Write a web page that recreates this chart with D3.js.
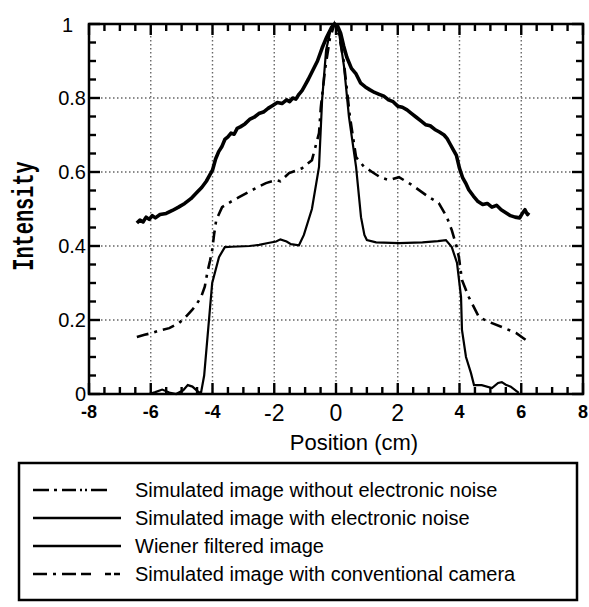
<!DOCTYPE html>
<html><head><meta charset="utf-8">
<script src="https://cdn.jsdelivr.net/npm/d3@7"></script>
<style>body{margin:0;background:#fff}</style>
</head><body><svg id="c" width="589" height="607"></svg>
<script>
// ---- data ----
const xTicks = [-8,-6,-4,-2,0,2,4,6,8];
const yTicks = [0,0.2,0.4,0.6,0.8,1];
const yTickLabels = ["0","0.2","0.4","0.6","0.8","1"];
const legendLabels = [
  "Simulated image without electronic noise",
  "Simulated image with electronic noise",
  "Wiener filtered image",
  "Simulated image with conventional camera"
];
const noisyX = [-6.45,-6.35,-6.25,-6.15,-6.05,-5.95,-5.85,-5.7,-5.5,-5.3,-5.1,-4.9,-4.7,-4.5,-4.35,-4.2,-4.1,-4.0,-3.9,-3.8,-3.7,-3.6,-3.5,-3.4,-3.3,-3.2,-3.1,-2.95,-2.8,-2.65,-2.5,-2.35,-2.2,-2.05,-1.9,-1.75,-1.6,-1.5,-1.4,-1.3,-1.2,-1.1,-1.0,-0.9,-0.75,-0.6,-0.45,-0.3,-0.15,-0.05,0.05,0.15,0.25,0.35,0.5,0.65,0.8,0.95,1.1,1.25,1.4,1.55,1.7,1.85,2.0,2.15,2.3,2.45,2.6,2.75,2.9,3.05,3.2,3.35,3.5,3.6,3.7,3.8,3.9,4.0,4.1,4.2,4.3,4.45,4.6,4.75,4.9,5.05,5.2,5.35,5.5,5.65,5.8,5.95,6.05,6.12,6.2,6.25];
const noisyY = [0.462,0.470,0.465,0.478,0.472,0.482,0.476,0.485,0.488,0.496,0.505,0.515,0.528,0.545,0.558,0.575,0.59,0.605,0.635,0.655,0.668,0.688,0.695,0.705,0.702,0.718,0.722,0.73,0.742,0.748,0.758,0.762,0.772,0.78,0.788,0.785,0.795,0.79,0.8,0.797,0.81,0.82,0.835,0.85,0.875,0.9,0.935,0.965,0.99,1.0,0.995,0.975,0.94,0.91,0.88,0.865,0.84,0.83,0.822,0.815,0.81,0.805,0.795,0.79,0.778,0.775,0.768,0.758,0.748,0.738,0.728,0.725,0.715,0.708,0.7,0.69,0.675,0.66,0.645,0.61,0.585,0.57,0.552,0.535,0.52,0.512,0.515,0.505,0.51,0.498,0.49,0.482,0.478,0.476,0.49,0.498,0.485,0.49];
const wienerX = [-6.05,-5.85,-5.63,-5.4,-5.18,-4.95,-4.8,-4.65,-4.45,-4.37,-4.27,-4.01,-3.79,-3.6,-3.37,-2.8,-2.49,-2.2,-1.94,-1.8,-1.6,-1.46,-1.2,-1.04,-0.78,-0.55,-0.45,-0.32,-0.16,-0.03,0.1,0.26,0.42,0.65,0.81,0.92,1.0,1.3,2.04,2.8,3.3,3.56,3.75,3.92,4.05,4.08,4.21,4.37,4.47,4.72,5.05,5.25,5.37,5.5,5.66,5.92];
const wienerY = [0.0,0.005,0.012,0.004,0.0,0.01,0.024,0.02,0.005,0.004,0.05,0.3,0.37,0.397,0.398,0.4,0.403,0.408,0.412,0.418,0.412,0.405,0.402,0.43,0.5,0.614,0.795,0.93,0.99,1.0,0.976,0.885,0.749,0.614,0.478,0.43,0.416,0.41,0.408,0.41,0.413,0.416,0.397,0.354,0.262,0.173,0.1,0.057,0.024,0.024,0.016,0.03,0.032,0.025,0.02,0.003];
const cameraX = [-6.45,-6.2,-5.95,-5.7,-5.4,-5.08,-4.85,-4.66,-4.5,-4.37,-4.25,-4.17,-4.08,-4.01,-3.95,-3.88,-3.69,-3.4,-3.14,-2.72,-2.27,-1.94,-1.8,-1.52,-1.1,-0.78,-0.55,-0.49,-0.35,-0.2,-0.05,0.1,0.25,0.45,0.65,0.9,1.17,1.45,1.72,2.04,2.46,3.01,3.33,3.59,3.75,3.9,3.98,4.08,4.3,4.63,4.95,5.37,5.83,6.15];
const cameraY = [0.154,0.16,0.165,0.172,0.178,0.192,0.21,0.227,0.245,0.262,0.29,0.327,0.36,0.389,0.43,0.47,0.505,0.52,0.532,0.551,0.57,0.578,0.575,0.597,0.61,0.632,0.705,0.776,0.88,0.96,1.0,0.97,0.9,0.75,0.64,0.615,0.6,0.585,0.578,0.586,0.565,0.532,0.516,0.478,0.443,0.40,0.37,0.308,0.262,0.208,0.195,0.181,0.165,0.146];

// ---- layout ----
const svg = d3.select("#c");
const L = 89, R = 583, T = 24, B = 394;
const x = d3.scaleLinear().domain([-8,8]).range([L,R]);
const y = d3.scaleLinear().domain([0,1]).range([B,T]);

// grid
const g = svg.append("g");
g.selectAll(".gx").data(xTicks.slice(1,-1)).join("line")
  .attr("x1",d=>x(d)).attr("x2",d=>x(d)).attr("y1",T).attr("y2",B)
  .attr("stroke","#666").attr("stroke-width",1.4).attr("stroke-dasharray","1.5,2.5");
g.selectAll(".gy").data(yTicks.slice(1,-1)).join("line")
  .attr("x1",L).attr("x2",R).attr("y1",d=>y(d)).attr("y2",d=>y(d))
  .attr("stroke","#666").attr("stroke-width",1.4).attr("stroke-dasharray","1.5,2.5");

// ticks (inward, on all four sides)
const xMinor = d3.range(-8,8.01,0.5);
const yMinor = d3.range(0,1.001,0.05);
const isMajX = d => Math.abs(d/2 - Math.round(d/2))<1e-6;
const isMajY = d => Math.abs(d/0.2 - Math.round(d/0.2))<1e-6;
const tk = svg.append("g").attr("stroke","#000").attr("stroke-width",2.4);
xMinor.forEach(d=>{
  const len = isMajX(d)?11:7;
  tk.append("line").attr("x1",x(d)).attr("x2",x(d)).attr("y1",B).attr("y2",B-len);
  tk.append("line").attr("x1",x(d)).attr("x2",x(d)).attr("y1",T).attr("y2",T+len);
});
yMinor.forEach(d=>{
  const len = isMajY(d)?11:7;
  tk.append("line").attr("y1",y(d)).attr("y2",y(d)).attr("x1",L).attr("x2",L+len);
  tk.append("line").attr("y1",y(d)).attr("y2",y(d)).attr("x1",R).attr("x2",R-len);
});

// frame
svg.append("rect").attr("x",L).attr("y",T).attr("width",R-L).attr("height",B-T)
  .attr("fill","none").attr("stroke","#000").attr("stroke-width",2.5);

// tick labels
svg.append("g").selectAll("text").data(xTicks).join("text")
  .attr("x",d=>x(d)).attr("y",d=>Math.abs(d)<=2?421:418).attr("text-anchor","middle")
  .attr("font-family","Liberation Sans")
  .attr("font-size",d=>Math.abs(d)<=2?23:18)
  .attr("font-weight",d=>Math.abs(d)<=2?"normal":"bold")
  .text(d=>d);
svg.append("g").selectAll("text").data(yTicks).join("text")
  .attr("x",d=>d===1?73:86).attr("y",d=>y(d)+(d===1?8:7)).attr("text-anchor","end")
  .attr("font-family","Liberation Sans").attr("font-size",20).text((d,i)=>yTickLabels[i]);

// axis titles
svg.append("text").attr("x",354).attr("y",450).attr("text-anchor","middle")
  .attr("font-family","Liberation Sans").attr("font-size",22).text("Position (cm)");
svg.append("text").attr("transform","translate(33,216) rotate(-90) scale(0.7,1)").attr("text-anchor","middle")
  .attr("font-family","Liberation Mono").attr("font-weight","bold").attr("font-size",29).text("Intensity");

// curves
const line = d3.line().x(d=>x(d[0])).y(d=>y(d[1])).curve(d3.curveLinear);
const pts = (xs,ys)=>xs.map((v,i)=>[v,ys[i]]);
svg.append("path").datum(pts(cameraX,cameraY)).attr("d",line)
  .attr("fill","none").attr("stroke","#000").attr("stroke-width",2.6)
  .attr("stroke-dasharray","12,6,3,6");
svg.append("path").datum(pts(wienerX,wienerY)).attr("d",line)
  .attr("fill","none").attr("stroke","#000").attr("stroke-width",2.2);
svg.append("path").datum(pts(noisyX,noisyY)).attr("d",line)
  .attr("fill","none").attr("stroke","#000").attr("stroke-width",3.6).attr("stroke-linejoin","round");

// legend
const lg = svg.append("g");
lg.append("rect").attr("x",19).attr("y",463).attr("width",558).attr("height",137)
  .attr("fill","none").attr("stroke","#000").attr("stroke-width",2.5);
const dashes = ["16,5,3,5,14,4,2,3,2,4,16","none","none","14,6,3,6,14,5,10"];
legendLabels.forEach((t,i)=>{
  const yy = 490 + i*28;
  lg.append("line").attr("x1",33).attr("x2",121).attr("y1",yy).attr("y2",yy)
    .attr("stroke","#000").attr("stroke-width",2.6)
    .attr("stroke-dasharray",dashes[i]==="none"?null:dashes[i]);
  lg.append("text").attr("x",135).attr("y",yy+7).attr("font-family","Liberation Sans")
    .attr("font-size",20).text(t);
});
</script></body></html>
